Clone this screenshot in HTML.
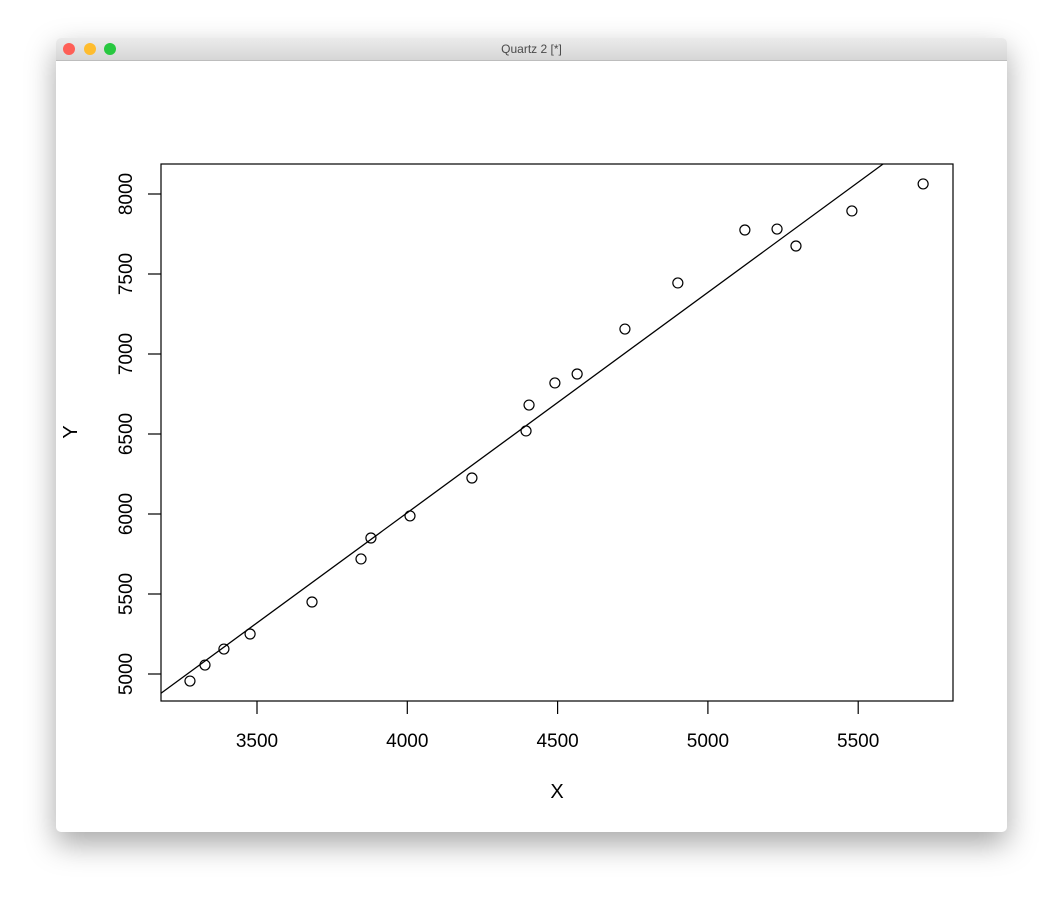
<!DOCTYPE html>
<html><head><meta charset="utf-8"><style>
html,body{margin:0;padding:0;background:#fff;width:1063px;height:906px;overflow:hidden;font-family:"Liberation Sans",sans-serif}
#win{position:absolute;left:56px;top:38px;width:951px;height:794px;background:#fff;border-radius:5px;box-shadow:0 12px 30px rgba(0,0,0,0.35);overflow:hidden}
#bar{position:absolute;left:0;top:0;width:951px;height:22px;background:linear-gradient(#ebebeb,#d6d6d6);border-bottom:1px solid #bdbdbd;text-align:center;font-size:12px;line-height:22px;color:#4a4a4a}
.tl{position:absolute;top:5px;width:12px;height:12px;border-radius:50%}
</style></head><body>
<div id="win">
<div id="bar">Quartz 2 [*]
<div class="tl" style="left:7px;background:#fe5f57"></div>
<div class="tl" style="left:28px;background:#febc2e"></div>
<div class="tl" style="left:48px;background:#28c840"></div>
</div></div>
<svg id="chart" width="1063" height="906" style="position:absolute;left:0;top:0"></svg>
<script>
const xs=[3277,3327,3390,3477,3683,3846,3879,4009,4215,4395,4405,4491,4565,4724,4900,5123,5230,5293,5479,5716];
const ys=[4956,5056,5156,5250,5450,5719,5850,5988,6225,6519,6681,6819,6875,7156,7444,7775,7781,7675,7894,8063];
const xTicks=[3500,4000,4500,5000,5500];
const yTicks=[5000,5500,6000,6500,7000,7500,8000];
const intercept=500, slope=1.377;
const L=161,R=953,T=164,B=701;
const X=v=>257+(v-3500)*0.3006;
const Y=v=>674-(v-5000)*0.16;
const svg=document.getElementById('chart');
const NS='http://www.w3.org/2000/svg';
function mk(t,a){const e=document.createElementNS(NS,t);for(const k in a)e.setAttribute(k,a[k]);svg.appendChild(e);return e;}
const box=mk('rect',{x:L,y:T,width:R-L,height:B-T,fill:'none',stroke:'#000','stroke-width':1.2});


mk('line',{x1:X(3500),x2:X(5500),y1:B,y2:B,stroke:'#000'});
mk('line',{x1:L,x2:L,y1:Y(5000),y2:Y(8000),stroke:'#000'});
xTicks.forEach(v=>{
 const l=mk('line',{x1:X(v),x2:X(v),y1:B,y2:B+13,stroke:'#000','stroke-width':1.2});
 
 
 const t=mk('text',{x:X(v),y:747,'text-anchor':'middle','font-size':19});
 t.textContent=v;
 
 
});
yTicks.forEach(v=>{
 const l=mk('line',{x1:L-13,x2:L,y1:Y(v),y2:Y(v),stroke:'#000','stroke-width':1.2});
 
 
 const t=mk('text',{x:132,y:Y(v),'text-anchor':'middle','font-size':19,transform:`rotate(-90 132 ${Y(v)})`});
 t.textContent=v;
 
 
});
const xl=mk('text',{x:557,y:798,'text-anchor':'middle','font-size':20});xl.textContent='X';


const yl=mk('text',{x:77,y:432,'text-anchor':'middle','font-size':20,transform:'rotate(-90 77 432)'});yl.textContent='Y';


const x0v=3500+(L-257)/0.3006, x1v=3500+(R-257)/0.3006;
let pts=[[x0v,intercept+slope*x0v],[x1v,intercept+slope*x1v]];
const ymax=5000+(674-T)/0.16, ymin=5000+(674-B)/0.16;
pts=pts.map(([x,y])=>{if(y>ymax)return[(ymax-intercept)/slope,ymax];if(y<ymin)return[(ymin-intercept)/slope,ymin];return[x,y];});
const ln=mk('line',{x1:X(pts[0][0]),y1:Y(pts[0][1]),x2:X(pts[1][0]),y2:Y(pts[1][1]),stroke:'#000','stroke-width':1.3});


xs.forEach((x,i)=>{
 const c=mk('circle',{cx:X(x),cy:Y(ys[i]),r:5,fill:'none',stroke:'#000','stroke-width':1.2});
 
 
});
</script>
</body></html>
